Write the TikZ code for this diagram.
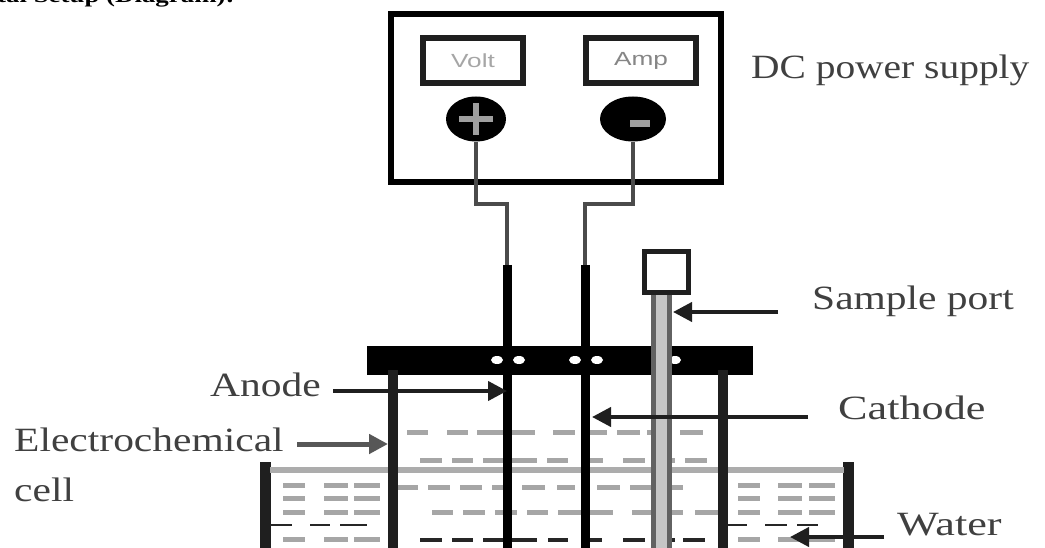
\documentclass[tikz,border=0pt]{standalone}
\usepackage{fontspec}
\setmainfont{Liberation Serif}
\newfontfamily\widefont[FakeStretch=1.22]{Liberation Serif}
\newfontfamily\widerfont[FakeStretch=1.30]{Liberation Serif}
\newfontfamily\dcfont[FakeStretch=1.16]{Liberation Serif}
\newfontfamily\meterfont[FakeStretch=1.38]{Liberation Sans}
\newfontfamily\headfont[FakeStretch=1.28,BoldFont={Liberation Serif Bold}]{Liberation Serif}
\usetikzlibrary{arrows.meta,shapes.geometric}
\definecolor{ink}{gray}{0.12}
\tikzset{
 px/.style={x=1pt,y=-1pt},
 label/.style={anchor=west,inner sep=0pt,font=\widefont\fontsize{34}{36}\selectfont,text=ink!85!white},
 meter/.style={draw=ink,line width=6pt,fill=white,minimum height=45pt,inner sep=0pt,font=\meterfont\fontsize{19}{21}\selectfont},
 knob/.style={ellipse,fill=black,inner sep=0pt},
 wire/.style={draw=ink!80,line width=4pt},
 rod/.style={draw=black,line width=9pt},
 wall/.style={draw=ink,line width=10pt},
 ptr/.style={draw=ink,line width=4pt,-{Triangle[length=19pt,width=19pt]}},
 wd/.style={draw=gray!70,line width=5pt},
 wddark/.style={draw=black!85,line width=4pt},
 tubeside/.style={draw=ink!70,line width=5pt},
}
\begin{document}
\begin{tikzpicture}[px]
\useasboundingbox (0,0) rectangle (1045,548);
\clip (0,0) rectangle (1045,548);
% heading
\node[anchor=base west,inner sep=0pt,font=\headfont\bfseries\fontsize{21}{22}\selectfont] (head) at (-3,3) {tal Setup (Diagram):};
% supply
\node[draw=black,line width=6pt,minimum width=330pt,minimum height=168pt,inner sep=0pt] (supply) at (556,98) {};
\node[meter,minimum width=100pt,text=gray!70] (volt) at (473,61) {Volt};
\node[meter,minimum width=110pt,text=gray!95] (amp) at (641,61) {Amp};
\node[knob,minimum width=60pt,minimum height=45pt] (plus) at (476,119) {};
\node[knob,minimum width=66pt,minimum height=45pt] (minus) at (633,119) {};
\draw[gray!75,line width=6pt] (476,103)--(476,135) (459,119)--(493,119);
\draw[gray!75,line width=7pt] (630,124)--(650,124);
\node[label,font=\dcfont\fontsize{34}{36}\selectfont] (dc) at (751,70) {DC power supply};
% cell
\coordinate (a0) at (507,265); \coordinate (c0) at (585,265);
\coordinate (a1) at (507,548); \coordinate (c1) at (585,548);
\draw[wire] (plus.south) -- (476,204) -- (507,204) -- (a0);
\draw[wire] (minus.south) -- (633,204) -- (585,204) -- (c0);
\draw[wall,line width=11pt] (265,462)--(265,548) (848,462)--(848,548);
% water line
\draw[draw=gray!65,line width=6pt] (270,470)--(844,470);
% cell liquid dashes
\foreach \xa/\xb in {407/428,447/468,477/535,553/575,585/607,617/640,647/670,680/703}{\draw[wd] (\xa,432)--(\xb,432);}
\foreach \xa/\xb in {420/442,452/473,483/537,547/568,587/603,623/645,653/675,685/707}{\draw[wd] (\xa,460)--(\xb,460);}
\foreach \xa/\xb in {397/418,428/450,460/482,492/503,522/545,557/575,597/620,630/683}{\draw[wd] (\xa,487)--(\xb,487);}
\foreach \xa/\xb in {432/453,463/485,495/517,527/548,558/613,632/683,695/720}{\draw[wd] (\xa,512)--(\xb,512);}
\foreach \xa/\xb in {420/442,452/473,483/537,548/568,588/602,623/645,653/675,683/705}{\draw[wddark] (\xa,540)--(\xb,540);}
% side dashes
\foreach \y in {485,498,512,539}{\foreach \xa/\xb in {283/305,324/348,354/380,738/760,778/802,809/835}{\draw[wd] (\xa,\y)--(\xb,\y);}}
\foreach \xa/\xb in {270/292,310/330,340/367,725/747,765/787,797/818}{\draw[wddark,line width=2.5pt] (\xa,525)--(\xb,525);}
% lid
\node[fill=black,minimum width=386pt,minimum height=29pt,inner sep=0pt] (lid) at (560,360) {};
\foreach \x in {497,519,575,597,675}{\fill[white] (\x,360) ellipse[x radius=6pt,y radius=4pt];}
% cell walls, rods
\draw[wall] (393,370)--(393,548) (723,370)--(723,548);
\draw[rod] (a0)--(a1); \draw[rod] (c0)--(c1);
% sample tube
\fill[gray!45] (651,293) rectangle (672,548);
\draw[tubeside] (653.5,293)--(653.5,548) (669.5,293)--(669.5,548);
\node[draw=ink,fill=white,line width=5pt,minimum width=44pt,minimum height=41pt,inner sep=0pt] (port) at (666,272) {};
% labels
\node[label] (anode) at (210,385) {Anode};
\node[label] (echem) at (14,440) {Electrochemical};
\node[label] (cellt) at (14,490) {cell};
\node[label] (sport) at (812,301) {Sample port};
\node[label,font=\widerfont\fontsize{34}{36}\selectfont] (cath) at (838,408) {Cathode};
\node[label,font=\widerfont\fontsize{34}{36}\selectfont] (water) at (897,525) {Water};
% pointers
\coordinate (pa) at (507,391); \coordinate (pe) at (388,444);
\coordinate (pc) at (592,417); \coordinate (ps) at (673,312);
\coordinate (pw) at (790,537);
\draw[ptr] (333,391) -- (pa);
\draw[ptr,draw=ink!75,line width=5pt] (297,444) -- (pe);
\draw[ptr] (808,417) -- (pc);
\draw[ptr] (778,312) -- (ps);
\draw[ptr] (884,537) -- (pw);
\end{tikzpicture}
\end{document}
